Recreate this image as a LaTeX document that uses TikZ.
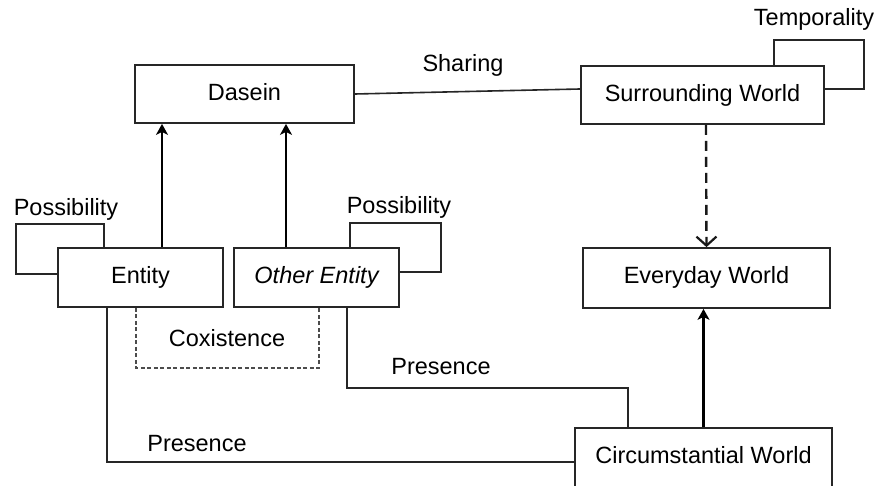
\documentclass[tikz,border=0pt]{standalone}
\usepackage{fontspec}
\setmainfont{Liberation Sans}
\usetikzlibrary{arrows.meta}
\begin{document}
\begin{tikzpicture}[x=1pt,y=-1pt,
  txt/.style={font=\fontsize{23.5}{27}\selectfont, inner sep=0pt},
  box/.style={draw=black!85, line width=1.8pt, inner sep=0pt, font=\fontsize{23.5}{27}\selectfont},
  conn/.style={draw=black!85, line width=1.6pt},
  arr/.style={draw=black, line width=2.6pt, -{Stealth[length=11pt,width=12pt,inset=3pt]}},
  darr/.style={draw=black!90, line width=2.4pt, dash pattern=on 10pt off 6pt, -{Straight Barb[length=9pt,width=20pt,line width=2.2pt]}},
  coex/.style={draw=black!70, line width=1.5pt, dash pattern=on 4pt off 2.5pt}]
\useasboundingbox (0,0) rectangle (886,486);
\clip (0,0) rectangle (886,486);
\fill[white] (0,0) rectangle (886,486);
% boxes
\node[box, minimum width=219pt, minimum height=58pt] (dasein) at (244.5,94) {\raisebox{5pt}{Dasein}};
\node[box, minimum width=243pt, minimum height=58pt] (sw) at (702.5,95) {\raisebox{5pt}{Surrounding World}};
\node[box, minimum width=247pt, minimum height=60pt] (ew) at (706.5,278) {\raisebox{6pt}{Everyday World}};
\node[box, minimum width=165pt, minimum height=59pt] (entity) at (140.5,277.5) {\raisebox{5pt}{Entity}};
\node[box, minimum width=165pt, minimum height=59pt] (other) at (316.5,277.5) {\raisebox{5pt}{\itshape Other Entity}};
\node[box, minimum width=257pt, minimum height=62pt] (cw) at (703.5,459) {\raisebox{8pt}{Circumstantial World}};
% coordinates
\coordinate (tc) at (864,40);
\coordinate (plc) at (16,224);
\coordinate (prc) at (441,223);
\coordinate (cxc) at (319,368);
\coordinate (pp) at (628,388);
% connectors
\draw[conn] (dasein.east) -- ([yshift=6pt]sw.west);
\draw[conn] ([xshift=71.5pt]sw.north) |- (tc) |- ([yshift=6pt]sw.east);
\draw[darr] ([xshift=3.5pt]sw.south) -- (ew.north);
\draw[arr] (cw.north) -- (cw.north |- ew.south);
\draw[arr] ([xshift=21.5pt]entity.north) -- ([xshift=21.5pt]entity.north |- dasein.south);
\draw[arr] ([xshift=-30.5pt]other.north) -- ([xshift=-30.5pt]other.north |- dasein.south);
\draw[conn] ([yshift=3.5pt]entity.west) -| (plc) -| ([xshift=-36.5pt]entity.north);
\draw[conn] ([xshift=33.5pt]other.north) |- (prc) |- ([yshift=5.5pt]other.east);
\draw[coex] ([xshift=-4.5pt]entity.south) |- (cxc) -- (cxc |- other.south);
\draw[conn] ([xshift=-33.5pt]entity.south) |- ([yshift=-3pt]cw.west);
\draw[conn] ([xshift=30.5pt]other.south) |- (pp) -- (pp |- cw.north);
% labels
\node[txt] (ltemp) at (814,19) {Temporality};
\node[txt] (lshare) at (463,65) {Sharing};
\node[txt] (lposs1) at (66,209) {Possibility};
\node[txt] (lposs2) at (399,207) {Possibility};
\node[txt] (lcoex) at (227,338) {Coxistence};
\node[txt] (lpres1) at (441,367) {Presence};
\node[txt] (lpres2) at (197,444) {Presence};
\end{tikzpicture}
\end{document}
